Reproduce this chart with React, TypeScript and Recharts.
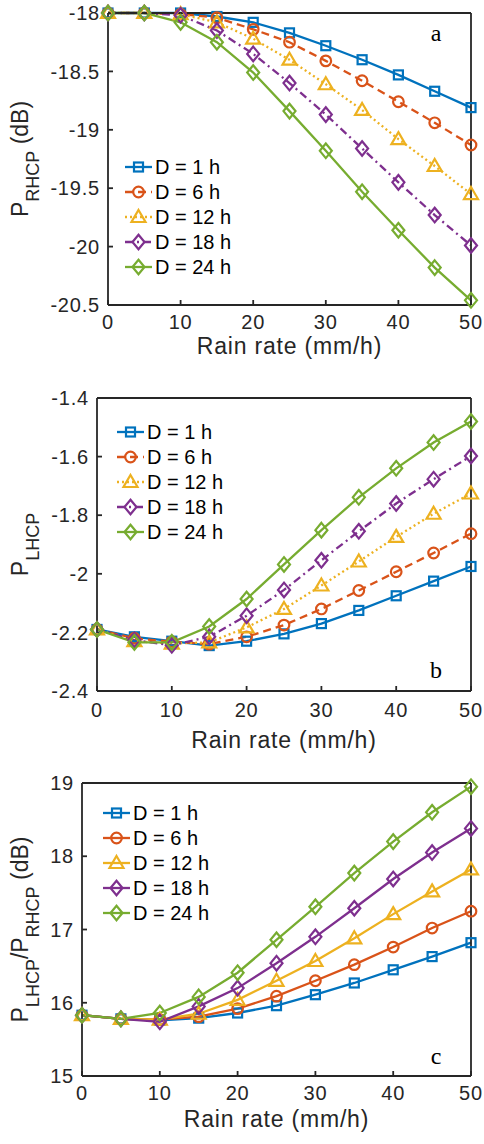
import React from "react";
import { Legend, Line, LineChart, XAxis, YAxis } from "recharts";

const rainRate = [0, 5, 10, 15, 20, 25, 30, 35, 40, 45, 50];
const xTicks = [0, 10, 20, 30, 40, 50];
const durations = ["D = 1 h", "D = 6 h", "D = 12 h", "D = 18 h", "D = 24 h"];

// panel a: P_RHCP (dB)
const rhcp1h = [-18, -18, -18.0, -18.03, -18.08, -18.17, -18.28, -18.4, -18.53, -18.67, -18.81];
const rhcp6h = [-18, -18, -18.01, -18.04, -18.14, -18.25, -18.41, -18.58, -18.76, -18.94, -19.13];
const rhcp12h = [-18, -18, -18.01, -18.08, -18.22, -18.4, -18.61, -18.83, -19.08, -19.31, -19.55];
const rhcp18h = [-18, -18, -18.02, -18.15, -18.35, -18.6, -18.87, -19.16, -19.45, -19.73, -19.99];
const rhcp24h = [-18, -18, -18.08, -18.25, -18.51, -18.84, -19.18, -19.53, -19.86, -20.18, -20.46];
const rhcpTicks = [-20.5, -20, -19.5, -19, -18.5, -18];

// panel b: P_LHCP
const lhcp1h = [-2.19, -2.215, -2.23, -2.245, -2.23, -2.205, -2.17, -2.125, -2.075, -2.025, -1.975];
const lhcp6h = [-2.19, -2.22, -2.232, -2.24, -2.215, -2.175, -2.12, -2.057, -1.993, -1.929, -1.863];
const lhcp12h = [-2.19, -2.23, -2.238, -2.234, -2.183, -2.12, -2.04, -1.958, -1.874, -1.795, -1.726];
const lhcp18h = [-2.19, -2.226, -2.244, -2.215, -2.143, -2.055, -1.954, -1.855, -1.76, -1.677, -1.598];
const lhcp24h = [-2.19, -2.234, -2.234, -2.18, -2.086, -1.968, -1.851, -1.739, -1.64, -1.552, -1.48];
const lhcpTicks = [-2.4, -2.2, -2, -1.8, -1.6, -1.4];

// panel c: P_LHCP / P_RHCP (dB)
const ratio1h = [15.83, 15.78, 15.76, 15.79, 15.86, 15.96, 16.11, 16.27, 16.45, 16.63, 16.82];
const ratio6h = [15.83, 15.78, 15.77, 15.81, 15.92, 16.09, 16.3, 16.52, 16.76, 17.02, 17.25];
const ratio12h = [15.83, 15.78, 15.77, 15.85, 16.04, 16.3, 16.57, 16.88, 17.21, 17.52, 17.82];
const ratio18h = [15.83, 15.78, 15.74, 15.95, 16.2, 16.54, 16.9, 17.29, 17.69, 18.05, 18.38];
const ratio24h = [15.83, 15.78, 15.86, 16.08, 16.41, 16.86, 17.31, 17.77, 18.2, 18.6, 18.95];
const ratioTicks = [15, 16, 17, 18, 19];

const colors = ["#0072BD", "#D95319", "#EDB120", "#7E2F8E", "#77AC30"];
const markers = ["square", "circle", "triangle", "diamond", "diamond"];
const dashes = [undefined, "8 5", "2 3", "8 4 2 4", undefined];

const INK = "#262626";
const SANS = "'Liberation Sans', Arial, Helvetica, sans-serif";
const SERIF = "'Liberation Serif', 'Times New Roman', serif";

function Marker({ shape, cx, cy, color }: { shape: string; cx: number; cy: number; color: string }) {
  const common = { fill: "none", stroke: color, strokeWidth: 2.2 };
  if (shape === "square") return <rect x={cx - 4.5} y={cy - 4.5} width={9} height={9} {...common} />;
  if (shape === "circle") return <circle cx={cx} cy={cy} r={5.3} {...common} />;
  if (shape === "triangle")
    return <polygon points={`${cx},${cy - 7} ${cx + 7},${cy + 5} ${cx - 7},${cy + 5}`} {...common} />;
  return <polygon points={`${cx},${cy - 7.3} ${cx + 6},${cy} ${cx},${cy + 7.3} ${cx - 6},${cy}`} {...common} />;
}

function buildRows(series: number[][]) {
  return rainRate.map((r, i) => {
    const row: Record<string, number> = { r };
    series.forEach((s, k) => (row["s" + k] = s[i]));
    return row;
  });
}

type PanelProps = {
  top: number;
  height: number;
  plotLeft: number;
  plotTop: number;
  plotBottom: number;
  series: number[][];
  yTicks: number[];
  yLabel: React.ReactNode;
  letter: string;
  letterY: number;
  legendLeft: number;
  legendTop: number;
  dashed: boolean;
  xLabelDrop?: number;
  xTickDrop?: number;
};

function Panel(p: PanelProps) {
  const rows = buildRows(p.series);
  const plotRight = 471;
  const cx = (p.plotLeft + plotRight) / 2;
  const cy = (p.plotTop + p.plotBottom) / 2;
  const domain = [p.yTicks[0], p.yTicks[p.yTicks.length - 1]];
  const tickStyle = { fill: INK, fontSize: 20, fontFamily: SANS, letterSpacing: 0.8 };
  const labelDrop = p.xLabelDrop ?? 0;
  const tickDrop = p.xTickDrop ?? 0;
  const line = { stroke: INK, strokeWidth: 1.8 };

  const renderLegend = () => (
    <svg width={140} height={130} style={{ display: "block" }}>
      {durations.map((name, i) => {
        const y = 12 + i * 25;
        return (
          <g key={name}>
            <line x1={3} x2={30} y1={y} y2={y} stroke={colors[i]} strokeWidth={2.3}
              strokeDasharray={p.dashed ? dashes[i] : undefined} />
            <Marker shape={markers[i]} cx={16.5} cy={y} color={colors[i]} />
            <text x={33} y={y + 7} fontSize={20} fontFamily={SANS} fill="#000">{name}</text>
          </g>
        );
      })}
    </svg>
  );

  return (
    <div style={{ position: "absolute", left: 0, top: p.top, width: 484, height: p.height }}>
      <LineChart width={484} height={p.height} data={rows}
        margin={{ top: p.plotTop - 1, right: 484 - plotRight - 1, bottom: 0, left: 0 }}>
        <XAxis dataKey="r" type="number" domain={[0, 50]} ticks={xTicks} interval={0}
          height={p.height - p.plotBottom} tickSize={-5} tickMargin={15 + tickDrop}
          axisLine={line} tickLine={line} tick={tickStyle}
          label={{
            content: () => (
              <text x={cx} y={p.plotBottom + 49 + labelDrop} textAnchor="middle" fontSize={23}
                letterSpacing={0.8} fontFamily={SANS} fill={INK}>Rain rate (mm/h)</text>
            ),
          }} />
        <XAxis xAxisId="top" orientation="top" dataKey="r" type="number" domain={[0, 50]}
          ticks={xTicks} interval={0} height={1} tickSize={-5} tick={false}
          axisLine={line} tickLine={line} />
        <YAxis type="number" domain={domain} ticks={p.yTicks} interval={0} width={p.plotLeft}
          tickSize={-5} tickMargin={13} axisLine={line} tickLine={line}
          tick={tickStyle} tickFormatter={(v: number) => String(v)}
          label={{
            content: () => (
              <text x={27.5} y={cy} transform={`rotate(-90, 27.5, ${cy})`} textAnchor="middle"
                fontSize={23} fontFamily={SANS} fill={INK} style={{ whiteSpace: "pre" }}>
                {p.yLabel}
              </text>
            ),
          }} />
        <YAxis yAxisId="right" orientation="right" type="number" domain={domain} ticks={p.yTicks}
          interval={0} width={1} tickSize={-5} tick={false} axisLine={line} tickLine={line} />
        <Legend layout="vertical" align="center" verticalAlign="middle" content={renderLegend}
          wrapperStyle={{ left: p.legendLeft, top: p.legendTop, width: 140, height: 130 }} />
        {p.series.map((_, k) => (
          <Line key={k} dataKey={"s" + k} name={durations[k]} stroke={colors[k]} strokeWidth={2.3}
            strokeDasharray={p.dashed ? dashes[k] : undefined} isAnimationActive={false}
            activeDot={false}
            dot={(d: any) => <Marker key={d.index} shape={markers[k]} cx={d.cx} cy={d.cy} color={colors[k]} />} />
        ))}
      </LineChart>
      <svg width={484} height={p.height} style={{ position: "absolute", left: 0, top: 0, pointerEvents: "none" }}>
        <text x={436} y={p.letterY} textAnchor="middle" fontSize={24} fontFamily={SERIF} fill="#000">{p.letter}</text>
      </svg>
    </div>
  );
}

const sub = (s: string) => (
  <tspan fontSize={18} dy={11}>{s}</tspan>
);

export default function App() {
  return (
    <div style={{ position: "absolute", left: 0, top: 0, width: 484, height: 1144, background: "#fff" }}>
      <Panel top={0} height={380} plotLeft={108} plotTop={13} plotBottom={305}
        series={[rhcp1h, rhcp6h, rhcp12h, rhcp18h, rhcp24h]} yTicks={rhcpTicks}
        yLabel={<>P{sub("RHCP")}<tspan dy={-11}>{" (dB)"}</tspan></>}
        letter="a" letterY={41} legendLeft={122} legendTop={154.7} dashed />
      <Panel top={380} height={380} plotLeft={97} plotTop={18} plotBottom={311}
        series={[lhcp1h, lhcp6h, lhcp12h, lhcp18h, lhcp24h]} yTicks={lhcpTicks}
        yLabel={<>P{sub("LHCP")}</>}
        letter="b" letterY={298} legendLeft={113.7} legendTop={40.3} dashed
        xLabelDrop={8} xTickDrop={2} />
      <Panel top={760} height={384} plotLeft={82} plotTop={23} plotBottom={316}
        series={[ratio1h, ratio6h, ratio12h, ratio18h, ratio24h]} yTicks={ratioTicks}
        yLabel={<>P{sub("LHCP")}<tspan dy={-11}>/P</tspan>{sub("RHCP")}<tspan dy={-11}>{" (dB)"}</tspan></>}
        letter="c" letterY={304} legendLeft={100.3} legendTop={41.3} dashed={false} xLabelDrop={2} />
    </div>
  );
}
